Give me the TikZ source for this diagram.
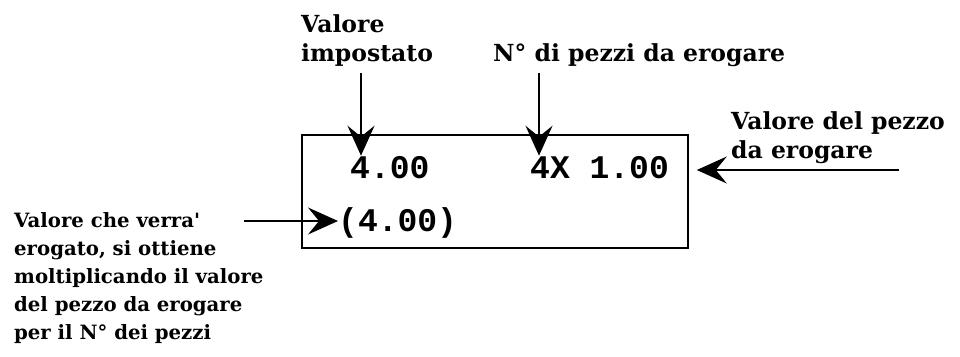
\documentclass[tikz,border=0pt]{standalone}
\usepackage{fontspec}
\setmainfont{DejaVu Serif}
\newfontfamily\lcdfont{Liberation Mono}
\usetikzlibrary{arrows.meta}

\begin{document}
\begin{tikzpicture}[
  x=1pt, y=-1pt,
  label/.style={font=\bfseries\fontsize{23.5}{29}\selectfont, inner sep=0pt, anchor=base west, align=left},
  note/.style={font=\bfseries\fontsize{19.7}{28}\selectfont, inner sep=0pt, anchor=base west, align=left},
  lcd/.style={font=\lcdfont\bfseries\fontsize{33}{33}\selectfont, inner sep=0pt, anchor=base west},
  arrow/.style={-{Stealth[length=30pt, width=27pt, inset=11pt]}, line width=1.2pt},
  display/.style={draw, line width=1.6pt, minimum width=386pt, minimum height=113pt, inner sep=0pt}
]
\useasboundingbox (0,0) rectangle (960,356);

% Display
\node[display] (disp) at (495,191.5) {};
\node[lcd] (preset) at (350,178) {4.00};
\node[lcd] (pieces) at (530,178) {4X 1.00};
\node[lcd] (total) at (338,231) {(4.00)};

% Labels (base = last line)
\node[label] (setval) at (301,61) {Valore\\impostato};
\node[label] (count) at (493,61) {N° di pezzi da erogare};
\node[label] (unit) at (731,158) {Valore del pezzo\\da erogare};
\node[note] (result) at (14,339) {Valore che verra\textquotesingle\\erogato, si ottiene\\moltiplicando il valore\\del pezzo da erogare\\per il N° dei pezzi};

% Arrows
\coordinate (setval end) at (361,73);
\coordinate (count end) at (539,73);
\coordinate (unit end) at (899,170);
\coordinate (result end) at (244,221);
\draw[arrow] (setval end) -- (setval end |- preset.north);
\draw[arrow] (count end) -- (count end |- pieces.north);
\draw[arrow] (unit end) -- ([xshift=8pt]disp.east |- unit end);
\draw[arrow] (result end) -- (result end -| total.west);

\end{tikzpicture}
\end{document}
